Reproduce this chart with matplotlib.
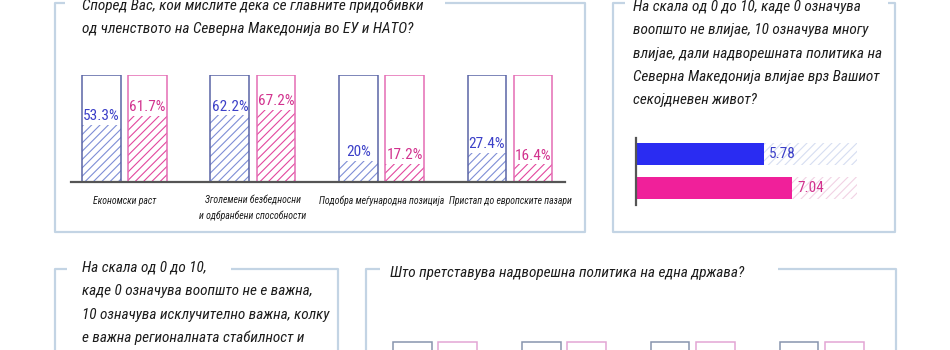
import matplotlib
matplotlib.use('Agg')
import matplotlib.pyplot as plt
from matplotlib import font_manager

# pick a narrow font if there is one
names = {f.name for f in font_manager.fontManager.ttflist}
FONT = 'DejaVu Sans'
for cand in ['Liberation Sans Narrow', 'Roboto Condensed', 'Open Sans Condensed']:
    if cand in names:
        FONT = cand
        break
plt.rcParams['font.family'] = [FONT, 'DejaVu Sans']
plt.rcParams['hatch.linewidth'] = 0.8

# data
benefit_cats = ['Економски раст', 'Зголемени безбедносни\nи одбранбени способности',
                'Подобра меѓународна позиција', 'Пристап до европските пазари']
blue_pct = [53.3, 62.2, 20, 27.4]
pink_pct = [61.7, 67.2, 17.2, 16.4]

influence_vals = [5.78, 7.04]
influence_max = 10

policy_slots = [0, 1, 2, 3]   # bottom-right chart, only the bar frames are visible
policy_full = 100

title1 = ['Според Вас, кои мислите дека се главните придобивки',
          'од членството на Северна Македонија во ЕУ и НАТО?']
title2 = ['На скала од 0 до 10, каде 0 означува',
          'воопшто не влијае, 10 означува многу',
          'влијае, дали надворешната политика на',
          'Северна Македонија влијае врз Вашиот',
          'секојдневен живот?']
title3 = ['На скала од 0 до 10,',
          'каде 0 означува воопшто не е важна,',
          '10 означува исклучително важна, колку',
          'е важна регионалната стабилност и']
title4 = 'Што претставува надворешна политика на една држава?'

BLUE_EDGE = '#5a64a6'
BLUE_HATCH = '#7f8ed6'
BLUE_TXT = '#3c40c8'
PINK_EDGE = '#e46cb4'
PINK_HATCH = '#e2489e'
PINK_TXT = '#d2328e'
FRAME = '#c3d4e4'
TXT = '#1c1c1c'

W, H = 950, 350
fig = plt.figure(figsize=(9.5, 3.5), dpi=100)
fig.patch.set_facecolor('white')

# background axes in pixel coords for frames and titles
bg = fig.add_axes([0, 0, 1, 1])
bg.set_xlim(0, W)
bg.set_ylim(H, 0)
bg.axis('off')

fr = dict(color=FRAME, lw=1.6, solid_capstyle='butt')
bg.plot([65, 55, 55, 585, 585, 445], [3, 3, 232, 232, 3, 3], **fr)
bg.plot([625, 613, 613, 895, 895, 888], [3, 3, 232, 232, 3, 3], **fr)
bg.plot([67, 55, 55], [269, 269, 360], **fr)
bg.plot([231, 338, 338], [269, 269, 360], **fr)
bg.plot([380, 366, 366], [269, 269, 360], **fr)
bg.plot([778, 896, 896], [269, 269, 360], **fr)

tkw = dict(fontsize=11, style='italic', color=TXT, va='baseline', ha='left')
for i, line in enumerate(title1):
    bg.text(82, 10 + i * 23.3, line, **tkw)
for i, line in enumerate(title2):
    bg.text(633, 11 + i * 23.3, line, **tkw)
for i, line in enumerate(title3):
    bg.text(82, 272 + i * 23.3, line, **tkw)
bg.text(390, 277, title4, **tkw)


def px_axes(x0, y0, x1, y1):
    # axes from pixel box (top-left origin)
    a = fig.add_axes([x0 / W, (H - y1) / H, (x1 - x0) / W, (y1 - y0) / H])
    a.set_facecolor('none')
    return a


# top-left: grouped bars
ax1 = px_axes(71, 75, 565, 182)
bw = 0.303
off = 0.179
xs = list(range(len(benefit_cats)))
for vals, sgn, edge, hatch, tc in [(blue_pct, -1, BLUE_EDGE, BLUE_HATCH, BLUE_TXT),
                                   (pink_pct, 1, PINK_EDGE, PINK_HATCH, PINK_TXT)]:
    pos = [x + sgn * off for x in xs]
    ax1.bar(pos, vals, bw, facecolor='none', edgecolor=hatch, hatch='////', lw=0, zorder=2)
    ax1.bar(pos, [100] * len(vals), bw, facecolor='none', edgecolor=edge, lw=1.1, zorder=3)
    for p, v in zip(pos, vals):
        ax1.text(p, v + 1.5, f'{v:g}%', ha='center', va='bottom', color=tc, fontsize=11)
ax1.set_xlim(-0.416, 3.428)
ax1.set_ylim(0, 100)
for s in ['top', 'right', 'left']:
    ax1.spines[s].set_visible(False)
ax1.spines['bottom'].set_color('#555555')
ax1.spines['bottom'].set_linewidth(1.6)
ax1.spines['bottom'].set_zorder(4)
ax1.set_xticks(xs)
ax1.set_xticklabels(benefit_cats, fontsize=7, style='italic', color=TXT, linespacing=1.5)
ax1.tick_params(axis='x', length=0, pad=10)
ax1.set_yticks([])

# top-right: horizontal bars out of 10
ax2 = px_axes(636, 138, 857, 205)
ys = [0, 1]
ax2.barh(ys, [influence_max] * 2, 0.65, facecolor='none', hatch='////', lw=0,
         edgecolor=['#d6def2', '#f2d2e4'], zorder=1)
ax2.barh(ys, influence_vals, 0.65, color=['#2a2cf2', '#f0209a'], lw=0, zorder=2)
for y, v, c in zip(ys, influence_vals, [BLUE_TXT, PINK_TXT]):
    ax2.text(v + 0.25, y, f'{v:.2f}', ha='left', va='center', color=c, fontsize=11, zorder=3)
ax2.set_xlim(0, influence_max)
ax2.set_ylim(1.5, -0.47)
for s in ['top', 'right', 'bottom']:
    ax2.spines[s].set_visible(False)
ax2.spines['left'].set_color('#555555')
ax2.spines['left'].set_linewidth(1.6)
ax2.set_xticks([])
ax2.set_yticks([])

# bottom-right: bar frames cut off by the figure edge
ax4 = px_axes(366, 341, 896, 448)
pos_b = [p - 0.178 for p in policy_slots]
pos_p = [p + 0.178 for p in policy_slots]
ax4.bar(pos_b, [policy_full] * 4, 0.302, facecolor='none', edgecolor='#8795ae', lw=1.1)
ax4.bar(pos_p, [policy_full] * 4, 0.302, facecolor='none', edgecolor='#e3a6d4', lw=1.1)
ax4.set_xlim(-0.535, 3.574)
ax4.set_ylim(0, 100.5)
ax4.axis('off')

fig.savefig('out.png', dpi=100)
